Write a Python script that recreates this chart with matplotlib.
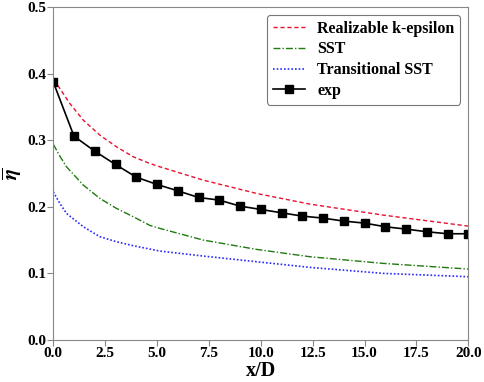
import numpy as np
import matplotlib
matplotlib.use("Agg")
import matplotlib.pyplot as plt
from matplotlib.ticker import FormatStrFormatter

plt.rcParams['font.family'] = ['Liberation Serif', 'DejaVu Serif']
plt.rcParams['font.weight'] = 'bold'
plt.rcParams['mathtext.fontset'] = 'stix'

#- Simulation curves
x_rke = [0, 0.16, 0.48, 0.8, 1.45, 2.25, 3.05, 3.86, 4.66, 5.14, 7.23, 9.8, 12.37, 15.9, 20]
y_rke = [0.39, 0.385, 0.37, 0.355, 0.33, 0.3075, 0.29, 0.275, 0.265, 0.26, 0.24, 0.22, 0.204, 0.1875, 0.171]

x_sst = [0, 0.32, 0.64, 1.45, 2.25, 3.05, 3.86, 4.66, 5.14, 7.23, 9.8, 12.37, 15.9, 20]
y_sst = [0.294, 0.276, 0.26, 0.2325, 0.2125, 0.1975, 0.185, 0.172, 0.1675, 0.15, 0.136, 0.125, 0.115, 0.1065]

x_tsst = [0, 0.32, 0.64, 1.45, 2.25, 3.05, 3.86, 4.66, 5.14, 7.23, 9.8, 12.37, 15.9, 20]
y_tsst = [0.2225, 0.205, 0.19, 0.17, 0.155, 0.1475, 0.1415, 0.1365, 0.1335, 0.126, 0.1175, 0.109, 0.100, 0.095]

#- Experimental data
x_exp = np.arange(0, 21)
y_exp = [0.3875, 0.306, 0.2835, 0.2635, 0.2445, 0.2335, 0.224, 0.214, 0.210, 0.201,
         0.196, 0.191, 0.186, 0.183, 0.1785, 0.1755, 0.170, 0.1665, 0.1625, 0.1595, 0.1595]

fig, ax = plt.subplots(figsize=(4.84, 3.82), dpi=100)
ax.plot(x_rke, y_rke, color='#e8102e', ls=(0, (3, 2)), lw=1.0, label='Realizable k-epsilon')
ax.plot(x_sst, y_sst, color='#207a10', ls=(0, (5, 1.5, 1, 1.5)), lw=1.0, label='SST')
ax.plot(x_tsst, y_tsst, color='#2a2aff', ls=(0, (1, 1.2)), lw=1.2, label='Transitional SST')
ax.plot(x_exp, y_exp, color='black', marker='s', ms=6, lw=1.2, label='exp')

ax.set_xlim(0, 20)
ax.set_ylim(0, 0.5)
ax.set_xticks(np.arange(0, 20.1, 2.5))
ax.set_yticks(np.arange(0, 0.51, 0.1))
ax.xaxis.set_major_formatter(FormatStrFormatter('%.1f'))
ax.yaxis.set_major_formatter(FormatStrFormatter('%.1f'))
for s in ax.spines.values():
    s.set_color('#888888')
ax.tick_params(colors='#888888', labelcolor='black', labelsize=11, length=4, pad=1)

ax.set_xlabel('x/D', fontsize=14.5, fontweight='bold', labelpad=1)
ax.set_ylabel(r'$\overline{\eta}$', fontsize=15)
ax.yaxis.set_label_coords(-0.07, 0.5)

leg = ax.legend(loc='upper right', prop={'weight': 'bold', 'size': 11.5}, handlelength=2.0,
                borderpad=0.35, labelspacing=0.3, handletextpad=0.8, fancybox=True,
                borderaxespad=0.5)
leg.get_frame().set_edgecolor('#555555')
leg.get_frame().set_linewidth(0.8)

fig.subplots_adjust(left=0.11, right=0.9676, top=0.9817, bottom=0.11)
plt.savefig("out.png", dpi=100)
